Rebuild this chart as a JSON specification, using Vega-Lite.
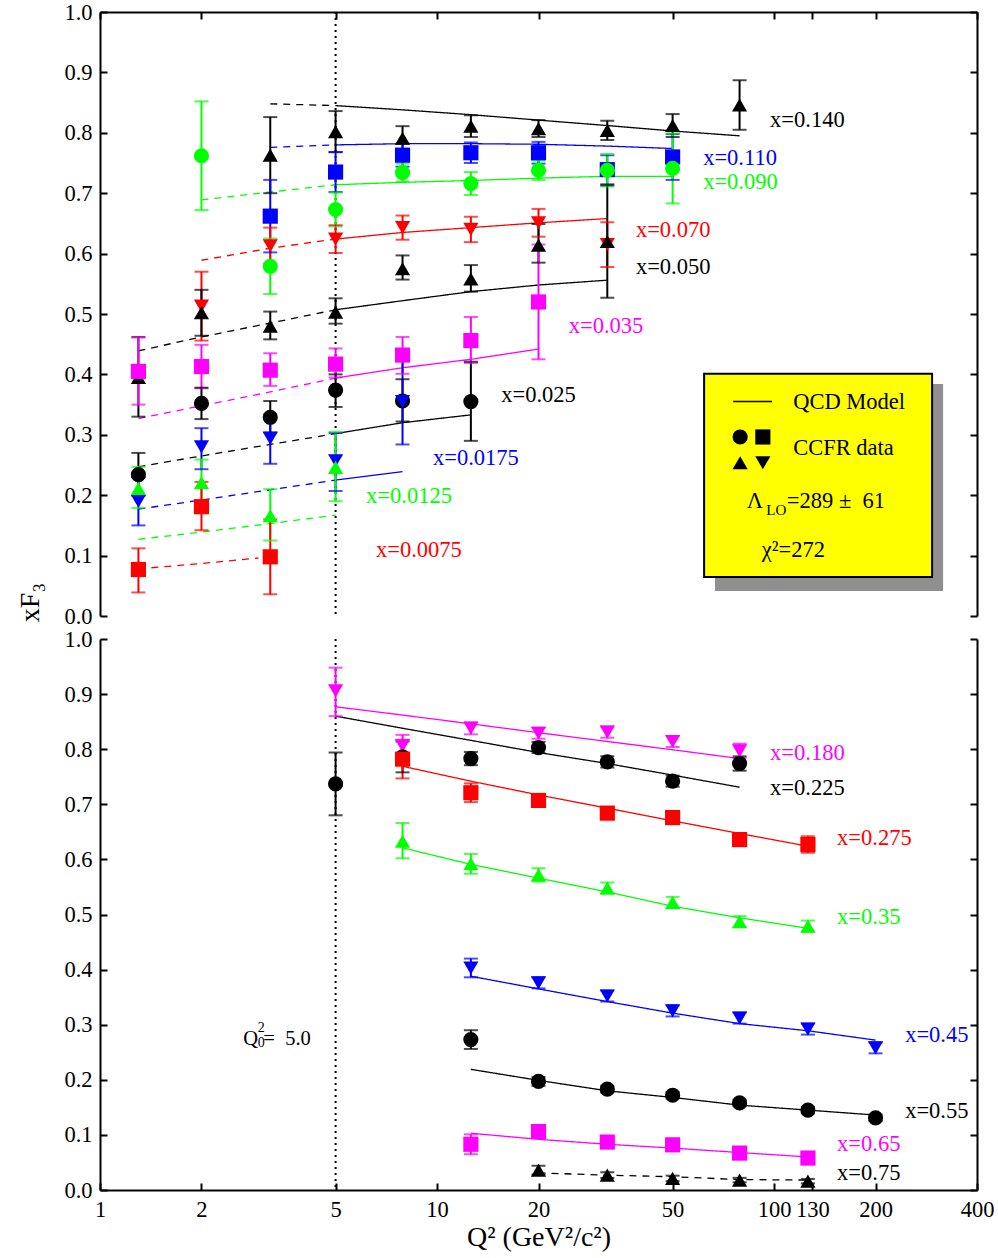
{
  "$schema": "https://vega.github.io/schema/vega-lite/v6.json",
  "background": "white",
  "padding": {"left": 16, "top": 1, "right": 6, "bottom": 6},
  "bounds": "flush",
  "spacing": 23,
  "config": {
    "view": {"stroke": null},
    "font": "Liberation Serif",
    "legend": {"disable": true},
    "axis": {"grid": false, "domainColor": "#000", "domainWidth": 2, "tickColor": "#000", "tickWidth": 2, "tickSize": -7,
      "labelFont": "Liberation Serif", "labelFontSize": 22.5, "labelColor": "#000", "labelPadding": 15, "labelFlush": false, "labelOverlap": false,
      "titleFont": "Liberation Serif", "titleFontWeight": "normal", "titleColor": "#000", "titleFontSize": 28}
  },
  "resolve": {"scale": {"shape": "independent"}},
  "datasets": {
    "tp": [
      {"s":"0.140","q":3.2,"y":0.763,"lo":0.700,"hi":0.826},{"s":"0.140","q":5,"y":0.802,"lo":0.768,"hi":0.836},{"s":"0.140","q":7.9,"y":0.791,"lo":0.771,"hi":0.811},{"s":"0.140","q":12.6,"y":0.811,"lo":0.793,"hi":0.829},{"s":"0.140","q":20,"y":0.807,"lo":0.793,"hi":0.821},{"s":"0.140","q":32,"y":0.804,"lo":0.788,"hi":0.820},{"s":"0.140","q":50,"y":0.812,"lo":0.793,"hi":0.831},{"s":"0.140","q":79,"y":0.846,"lo":0.805,"hi":0.887},
      {"s":"0.110","q":3.2,"y":0.662,"lo":0.602,"hi":0.722},{"s":"0.110","q":5,"y":0.735,"lo":0.702,"hi":0.768},{"s":"0.110","q":7.9,"y":0.763,"lo":0.744,"hi":0.782},{"s":"0.110","q":12.6,"y":0.767,"lo":0.750,"hi":0.784},{"s":"0.110","q":20,"y":0.767,"lo":0.749,"hi":0.785},{"s":"0.110","q":32,"y":0.739,"lo":0.715,"hi":0.763},{"s":"0.110","q":50,"y":0.760,"lo":0.722,"hi":0.798},
      {"s":"0.090","q":2,"y":0.762,"lo":0.672,"hi":0.852},{"s":"0.090","q":3.2,"y":0.579,"lo":0.533,"hi":0.625},{"s":"0.090","q":5,"y":0.673,"lo":0.645,"hi":0.701},{"s":"0.090","q":7.9,"y":0.734,"lo":0.719,"hi":0.749},{"s":"0.090","q":12.6,"y":0.716,"lo":0.697,"hi":0.735},{"s":"0.090","q":20,"y":0.738,"lo":0.722,"hi":0.754},{"s":"0.090","q":32,"y":0.738,"lo":0.711,"hi":0.765},{"s":"0.090","q":50,"y":0.741,"lo":0.683,"hi":0.799},
      {"s":"0.070","q":2,"y":0.513,"lo":0.456,"hi":0.570},{"s":"0.070","q":3.2,"y":0.613,"lo":0.583,"hi":0.643},{"s":"0.070","q":5,"y":0.624,"lo":0.601,"hi":0.647},{"s":"0.070","q":7.9,"y":0.643,"lo":0.623,"hi":0.663},{"s":"0.070","q":12.6,"y":0.640,"lo":0.619,"hi":0.661},{"s":"0.070","q":20,"y":0.651,"lo":0.628,"hi":0.674},{"s":"0.070","q":32,"y":0.615,"lo":0.578,"hi":0.652},
      {"s":"0.050","q":1.3,"y":0.395,"lo":0.330,"hi":0.462},{"s":"0.050","q":2,"y":0.502,"lo":0.464,"hi":0.540},{"s":"0.050","q":3.2,"y":0.480,"lo":0.458,"hi":0.504},{"s":"0.050","q":5,"y":0.503,"lo":0.484,"hi":0.526},{"s":"0.050","q":7.9,"y":0.575,"lo":0.557,"hi":0.597},{"s":"0.050","q":12.6,"y":0.558,"lo":0.537,"hi":0.581},{"s":"0.050","q":20,"y":0.614,"lo":0.585,"hi":0.649},{"s":"0.050","q":32,"y":0.620,"lo":0.527,"hi":0.713},
      {"s":"0.035","q":1.3,"y":0.405,"lo":0.350,"hi":0.461},{"s":"0.035","q":2,"y":0.413,"lo":0.377,"hi":0.449},{"s":"0.035","q":3.2,"y":0.407,"lo":0.381,"hi":0.435},{"s":"0.035","q":5,"y":0.417,"lo":0.395,"hi":0.443},{"s":"0.035","q":7.9,"y":0.432,"lo":0.401,"hi":0.462},{"s":"0.035","q":12.6,"y":0.456,"lo":0.419,"hi":0.495},{"s":"0.035","q":20,"y":0.520,"lo":0.425,"hi":0.615},
      {"s":"0.025","q":1.3,"y":0.234,"lo":0.199,"hi":0.270},{"s":"0.025","q":2,"y":0.352,"lo":0.326,"hi":0.378},{"s":"0.025","q":3.2,"y":0.329,"lo":0.304,"hi":0.356},{"s":"0.025","q":5,"y":0.374,"lo":0.346,"hi":0.400},{"s":"0.025","q":7.9,"y":0.356,"lo":0.322,"hi":0.392},{"s":"0.025","q":12.6,"y":0.355,"lo":0.290,"hi":0.421},
      {"s":"0.0175","q":1.3,"y":0.190,"lo":0.150,"hi":0.230},{"s":"0.0175","q":2,"y":0.280,"lo":0.243,"hi":0.311},{"s":"0.0175","q":3.2,"y":0.294,"lo":0.252,"hi":0.334},{"s":"0.0175","q":5,"y":0.257,"lo":0.207,"hi":0.303},{"s":"0.0175","q":7.9,"y":0.355,"lo":0.284,"hi":0.425},
      {"s":"0.0125","q":1.3,"y":0.211,"lo":0.179,"hi":0.247},{"s":"0.0125","q":2,"y":0.221,"lo":0.188,"hi":0.259},{"s":"0.0125","q":3.2,"y":0.166,"lo":0.125,"hi":0.210},{"s":"0.0125","q":5,"y":0.246,"lo":0.190,"hi":0.305},
      {"s":"0.0075","q":1.3,"y":0.077,"lo":0.039,"hi":0.112},{"s":"0.0075","q":2,"y":0.181,"lo":0.142,"hi":0.222},{"s":"0.0075","q":3.2,"y":0.098,"lo":0.036,"hi":0.160}
    ],
    "bp": [
      {"s":"0.180","q":5,"y":0.906,"lo":0.860,"hi":0.948},{"s":"0.180","q":7.9,"y":0.806,"lo":0.786,"hi":0.826},{"s":"0.180","q":12.6,"y":0.838,"lo":0.827,"hi":0.849},{"s":"0.180","q":20,"y":0.829,"lo":0.819,"hi":0.839},{"s":"0.180","q":32,"y":0.831,"lo":0.821,"hi":0.841},{"s":"0.180","q":50,"y":0.814,"lo":0.804,"hi":0.824},{"s":"0.180","q":79,"y":0.797,"lo":0.784,"hi":0.810},
      {"s":"0.225","q":5,"y":0.737,"lo":0.680,"hi":0.794},{"s":"0.225","q":7.9,"y":0.786,"lo":0.758,"hi":0.814},{"s":"0.225","q":12.6,"y":0.783,"lo":0.771,"hi":0.795},{"s":"0.225","q":20,"y":0.803,"lo":0.793,"hi":0.813},{"s":"0.225","q":32,"y":0.777,"lo":0.767,"hi":0.787},{"s":"0.225","q":50,"y":0.742,"lo":0.732,"hi":0.752},{"s":"0.225","q":79,"y":0.774,"lo":0.761,"hi":0.787},
      {"s":"0.275","q":7.9,"y":0.782,"lo":0.747,"hi":0.817},{"s":"0.275","q":12.6,"y":0.721,"lo":0.704,"hi":0.738},{"s":"0.275","q":20,"y":0.707,"lo":0.697,"hi":0.717},{"s":"0.275","q":32,"y":0.684,"lo":0.674,"hi":0.694},{"s":"0.275","q":50,"y":0.676,"lo":0.666,"hi":0.686},{"s":"0.275","q":79,"y":0.636,"lo":0.626,"hi":0.646},{"s":"0.275","q":126,"y":0.627,"lo":0.612,"hi":0.642},
      {"s":"0.35","q":7.9,"y":0.633,"lo":0.602,"hi":0.666},{"s":"0.35","q":12.6,"y":0.592,"lo":0.574,"hi":0.610},{"s":"0.35","q":20,"y":0.572,"lo":0.560,"hi":0.584},{"s":"0.35","q":32,"y":0.548,"lo":0.538,"hi":0.558},{"s":"0.35","q":50,"y":0.522,"lo":0.512,"hi":0.532},{"s":"0.35","q":79,"y":0.487,"lo":0.477,"hi":0.497},{"s":"0.35","q":126,"y":0.479,"lo":0.469,"hi":0.489},
      {"s":"0.45","q":12.6,"y":0.403,"lo":0.386,"hi":0.420},{"s":"0.45","q":20,"y":0.376,"lo":0.366,"hi":0.386},{"s":"0.45","q":32,"y":0.352,"lo":0.342,"hi":0.362},{"s":"0.45","q":50,"y":0.325,"lo":0.315,"hi":0.335},{"s":"0.45","q":79,"y":0.312,"lo":0.302,"hi":0.322},{"s":"0.45","q":126,"y":0.292,"lo":0.282,"hi":0.302},{"s":"0.45","q":200,"y":0.258,"lo":0.248,"hi":0.268},
      {"s":"0.55","q":12.6,"y":0.273,"lo":0.256,"hi":0.290},{"s":"0.55","q":20,"y":0.197,"lo":0.189,"hi":0.205},{"s":"0.55","q":32,"y":0.183,"lo":0.177,"hi":0.189},{"s":"0.55","q":50,"y":0.172,"lo":0.166,"hi":0.178},{"s":"0.55","q":79,"y":0.158,"lo":0.152,"hi":0.164},{"s":"0.55","q":126,"y":0.145,"lo":0.139,"hi":0.151},{"s":"0.55","q":200,"y":0.131,"lo":0.125,"hi":0.137},
      {"s":"0.65","q":12.6,"y":0.083,"lo":0.065,"hi":0.101},{"s":"0.65","q":20,"y":0.106,"lo":0.098,"hi":0.114},{"s":"0.65","q":32,"y":0.087,"lo":0.081,"hi":0.093},{"s":"0.65","q":50,"y":0.082,"lo":0.076,"hi":0.088},{"s":"0.65","q":79,"y":0.067,"lo":0.061,"hi":0.073},{"s":"0.65","q":126,"y":0.058,"lo":0.052,"hi":0.064},
      {"s":"0.75","q":20,"y":0.036,"lo":0.028,"hi":0.044},{"s":"0.75","q":32,"y":0.027,"lo":0.022,"hi":0.032},{"s":"0.75","q":50,"y":0.021,"lo":0.016,"hi":0.026},{"s":"0.75","q":79,"y":0.018,"lo":0.014,"hi":0.022},{"s":"0.75","q":126,"y":0.016,"lo":0.012,"hi":0.020}
    ],
    "tm": [
      {"s":"0.140","seg":"dash","q":3.2,"v":0.848},{"s":"0.140","seg":"dash","q":5,"v":0.845},
      {"s":"0.140","seg":"solid","q":5,"v":0.845},{"s":"0.140","seg":"solid","q":7.9,"v":0.838},{"s":"0.140","seg":"solid","q":12.6,"v":0.830},{"s":"0.140","seg":"solid","q":20,"v":0.821},{"s":"0.140","seg":"solid","q":32,"v":0.812},{"s":"0.140","seg":"solid","q":50,"v":0.803},{"s":"0.140","seg":"solid","q":79,"v":0.795},
      {"s":"0.110","seg":"dash","q":3.2,"v":0.776},{"s":"0.110","seg":"dash","q":5,"v":0.780},
      {"s":"0.110","seg":"solid","q":5,"v":0.780},{"s":"0.110","seg":"solid","q":7.9,"v":0.782},{"s":"0.110","seg":"solid","q":12.6,"v":0.782},{"s":"0.110","seg":"solid","q":20,"v":0.781},{"s":"0.110","seg":"solid","q":32,"v":0.778},{"s":"0.110","seg":"solid","q":50,"v":0.774},
      {"s":"0.090","seg":"dash","q":2,"v":0.689},{"s":"0.090","seg":"dash","q":3.2,"v":0.702},{"s":"0.090","seg":"dash","q":5,"v":0.714},
      {"s":"0.090","seg":"solid","q":5,"v":0.714},{"s":"0.090","seg":"solid","q":7.9,"v":0.718},{"s":"0.090","seg":"solid","q":12.6,"v":0.721},{"s":"0.090","seg":"solid","q":20,"v":0.725},{"s":"0.090","seg":"solid","q":32,"v":0.728},{"s":"0.090","seg":"solid","q":50,"v":0.728},
      {"s":"0.070","seg":"dash","q":2,"v":0.589},{"s":"0.070","seg":"dash","q":3.2,"v":0.609},{"s":"0.070","seg":"dash","q":5,"v":0.624},
      {"s":"0.070","seg":"solid","q":5,"v":0.624},{"s":"0.070","seg":"solid","q":7.9,"v":0.635},{"s":"0.070","seg":"solid","q":12.6,"v":0.643},{"s":"0.070","seg":"solid","q":20,"v":0.651},{"s":"0.070","seg":"solid","q":32,"v":0.658},
      {"s":"0.050","seg":"dash","q":1.3,"v":0.439},{"s":"0.050","seg":"dash","q":2,"v":0.462},{"s":"0.050","seg":"dash","q":3.2,"v":0.485},{"s":"0.050","seg":"dash","q":5,"v":0.507},
      {"s":"0.050","seg":"solid","q":5,"v":0.507},{"s":"0.050","seg":"solid","q":7.9,"v":0.522},{"s":"0.050","seg":"solid","q":12.6,"v":0.537},{"s":"0.050","seg":"solid","q":20,"v":0.548},{"s":"0.050","seg":"solid","q":32,"v":0.556},
      {"s":"0.035","seg":"dash","q":1.3,"v":0.327},{"s":"0.035","seg":"dash","q":2,"v":0.348},{"s":"0.035","seg":"dash","q":3.2,"v":0.371},{"s":"0.035","seg":"dash","q":5,"v":0.394},
      {"s":"0.035","seg":"solid","q":5,"v":0.394},{"s":"0.035","seg":"solid","q":7.9,"v":0.411},{"s":"0.035","seg":"solid","q":12.6,"v":0.425},{"s":"0.035","seg":"solid","q":20,"v":0.442},
      {"s":"0.025","seg":"dash","q":1.3,"v":0.247},{"s":"0.025","seg":"dash","q":2,"v":0.265},{"s":"0.025","seg":"dash","q":3.2,"v":0.284},{"s":"0.025","seg":"dash","q":5,"v":0.302},
      {"s":"0.025","seg":"solid","q":5,"v":0.302},{"s":"0.025","seg":"solid","q":7.9,"v":0.320},{"s":"0.025","seg":"solid","q":12.6,"v":0.333},
      {"s":"0.0175","seg":"dash","q":1.3,"v":0.177},{"s":"0.0175","seg":"dash","q":2,"v":0.192},{"s":"0.0175","seg":"dash","q":3.2,"v":0.209},{"s":"0.0175","seg":"dash","q":5,"v":0.225},
      {"s":"0.0175","seg":"solid","q":5,"v":0.225},{"s":"0.0175","seg":"solid","q":7.9,"v":0.239},
      {"s":"0.0125","seg":"dash","q":1.3,"v":0.127},{"s":"0.0125","seg":"dash","q":2,"v":0.139},{"s":"0.0125","seg":"dash","q":3.2,"v":0.153},{"s":"0.0125","seg":"dash","q":5,"v":0.167},
      {"s":"0.0075","seg":"dash","q":1.3,"v":0.078},{"s":"0.0075","seg":"dash","q":2,"v":0.087},{"s":"0.0075","seg":"dash","q":2.95,"v":0.096}
    ],
    "bm": [
      {"s":"0.180","seg":"solid","q":5,"v":0.877},{"s":"0.180","seg":"solid","q":7.9,"v":0.862},{"s":"0.180","seg":"solid","q":12.6,"v":0.846},{"s":"0.180","seg":"solid","q":20,"v":0.830},{"s":"0.180","seg":"solid","q":32,"v":0.814},{"s":"0.180","seg":"solid","q":50,"v":0.799},{"s":"0.180","seg":"solid","q":79,"v":0.783},
      {"s":"0.225","seg":"solid","q":5,"v":0.860},{"s":"0.225","seg":"solid","q":7.9,"v":0.838},{"s":"0.225","seg":"solid","q":12.6,"v":0.816},{"s":"0.225","seg":"solid","q":20,"v":0.794},{"s":"0.225","seg":"solid","q":32,"v":0.774},{"s":"0.225","seg":"solid","q":50,"v":0.753},{"s":"0.225","seg":"solid","q":79,"v":0.731},
      {"s":"0.275","seg":"solid","q":7.9,"v":0.769},{"s":"0.275","seg":"solid","q":12.6,"v":0.742},{"s":"0.275","seg":"solid","q":20,"v":0.717},{"s":"0.275","seg":"solid","q":32,"v":0.693},{"s":"0.275","seg":"solid","q":50,"v":0.670},{"s":"0.275","seg":"solid","q":79,"v":0.647},{"s":"0.275","seg":"solid","q":126,"v":0.624},
      {"s":"0.35","seg":"solid","q":7.9,"v":0.621},{"s":"0.35","seg":"solid","q":12.6,"v":0.591},{"s":"0.35","seg":"solid","q":20,"v":0.566},{"s":"0.35","seg":"solid","q":32,"v":0.541},{"s":"0.35","seg":"solid","q":50,"v":0.515},{"s":"0.35","seg":"solid","q":79,"v":0.494},{"s":"0.35","seg":"solid","q":126,"v":0.475},
      {"s":"0.45","seg":"solid","q":12.6,"v":0.388},{"s":"0.45","seg":"solid","q":20,"v":0.365},{"s":"0.45","seg":"solid","q":32,"v":0.342},{"s":"0.45","seg":"solid","q":50,"v":0.321},{"s":"0.45","seg":"solid","q":79,"v":0.302},{"s":"0.45","seg":"solid","q":126,"v":0.289},{"s":"0.45","seg":"solid","q":200,"v":0.272},
      {"s":"0.55","seg":"solid","q":12.6,"v":0.219},{"s":"0.55","seg":"solid","q":20,"v":0.199},{"s":"0.55","seg":"solid","q":32,"v":0.180},{"s":"0.55","seg":"solid","q":50,"v":0.168},{"s":"0.55","seg":"solid","q":79,"v":0.154},{"s":"0.55","seg":"solid","q":126,"v":0.145},{"s":"0.55","seg":"solid","q":200,"v":0.136},
      {"s":"0.65","seg":"solid","q":12.6,"v":0.103},{"s":"0.65","seg":"solid","q":20,"v":0.092},{"s":"0.65","seg":"solid","q":32,"v":0.083},{"s":"0.65","seg":"solid","q":50,"v":0.076},{"s":"0.65","seg":"solid","q":79,"v":0.068},{"s":"0.65","seg":"solid","q":126,"v":0.060},
      {"s":"0.75","seg":"dash","q":20,"v":0.031},{"s":"0.75","seg":"dash","q":32,"v":0.027},{"s":"0.75","seg":"dash","q":50,"v":0.024},{"s":"0.75","seg":"dash","q":79,"v":0.019},{"s":"0.75","seg":"dash","q":126,"v":0.018}
    ],
    "tl": [
      {"s":"0.140","t":"x=0.140","q":97.3,"v":0.821},{"s":"0.110","t":"x=0.110","q":61.6,"v":0.758},{"s":"0.090","t":"x=0.090","q":61.6,"v":0.719},
      {"s":"0.070","t":"x=0.070","q":38.9,"v":0.639},{"s":"0.050","t":"x=0.050","q":38.9,"v":0.578},{"s":"0.035","t":"x=0.035","q":24.6,"v":0.480},
      {"s":"0.025","t":"x=0.025","q":15.5,"v":0.366},{"s":"0.0175","t":"x=0.0175","q":9.73,"v":0.262},{"s":"0.0125","t":"x=0.0125","q":6.16,"v":0.199},
      {"s":"0.0075","t":"x=0.0075","q":6.59,"v":0.109}
    ],
    "bl": [
      {"s":"0.180","t":"x=0.180","q":97.3,"v":0.793},{"s":"0.225","t":"x=0.225","q":97.3,"v":0.730},{"s":"0.275","t":"x=0.275","q":153.8,"v":0.639},
      {"s":"0.35","t":"x=0.35","q":153.8,"v":0.495},{"s":"0.45","t":"x=0.45","q":244.8,"v":0.281},{"s":"0.55","t":"x=0.55","q":244.8,"v":0.143},
      {"s":"0.65","t":"x=0.65","q":153.8,"v":0.083},{"s":"0.75","t":"x=0.75","q":153.8,"v":0.031}
    ]
  },
  "vconcat": [
    {
      "width": 877,
      "height": 604,
      "resolve": {"axis": {"x": "independent", "y": "independent"}, "scale": {"shape": "independent"}},
      "layer": [
        {
          "data": {"values": [{"q": 66.8, "q2": 317.3, "v": 0.0414, "v2": 0.384}]},
          "mark": {"type": "rect", "fill": "#8f8f8f"},
          "encoding": {
            "x": {"field": "q", "type": "quantitative", "scale": {"type": "log", "domain": [1, 400], "nice": false}, "axis": null},
            "x2": {"field": "q2"},
            "y": {"field": "v", "type": "quantitative", "scale": {"domain": [0, 1], "nice": false}, "axis": null},
            "y2": {"field": "v2"}
          }
        },
        {
          "data": {"values": [{"q": 62.0, "q2": 294.3, "v": 0.0646, "v2": 0.401}]},
          "mark": {"type": "rect", "fill": "#ffff00", "stroke": "#000", "strokeWidth": 2},
          "encoding": {
            "x": {"field": "q", "type": "quantitative", "scale": {"type": "log", "domain": [1, 400], "nice": false}, "axis": null},
            "x2": {"field": "q2"},
            "y": {"field": "v", "type": "quantitative", "scale": {"domain": [0, 1], "nice": false}, "axis": null},
            "y2": {"field": "v2"}
          }
        },
        {
          "data": {"values": [{"q": 75.6, "q2": 98.6, "v": 0.355}]},
          "mark": {"type": "rule", "color": "#000", "strokeWidth": 1.5},
          "encoding": {
            "x": {"field": "q", "type": "quantitative", "scale": {"type": "log", "domain": [1, 400], "nice": false}, "axis": null},
            "x2": {"field": "q2"},
            "y": {"field": "v", "type": "quantitative", "scale": {"domain": [0, 1], "nice": false}, "axis": null}
          }
        },
        {
          "data": {"values": [{"m": "dot", "q": 79.3, "v": 0.2964}, {"m": "box", "q": 92.6, "v": 0.2964}, {"m": "up", "q": 79.3, "v": 0.2538}, {"m": "down", "q": 92.6, "v": 0.2538}]},
          "mark": {"type": "point", "filled": true, "color": "#000", "opacity": 1, "size": 230, "strokeWidth": 0},
          "encoding": {
            "x": {"field": "q", "type": "quantitative", "scale": {"type": "log", "domain": [1, 400], "nice": false}, "axis": null},
            "y": {"field": "v", "type": "quantitative", "scale": {"domain": [0, 1], "nice": false}, "axis": null},
            "shape": {"field": "m", "type": "nominal", "scale": {"domain": ["dot", "box", "up", "down"], "range": ["circle", "square", "triangle-up", "triangle-down"]}, "legend": null}
          }
        },
        {
          "data": {"values": [
            {"t": "QCD Model", "q": 113.9, "v": 0.355},
            {"t": "CCFR data", "q": 113.9, "v": 0.2777},
            {"t": "Λ", "q": 83.0, "v": 0.190},
            {"t": "=289 ±\u00a0\u00a061", "q": 109.1, "v": 0.190},
            {"t": "χ²=272", "q": 91.9, "v": 0.110}
          ]},
          "mark": {"type": "text", "align": "left", "baseline": "middle", "font": "Liberation Serif", "fontSize": 22.5, "color": "#000"},
          "encoding": {
            "x": {"field": "q", "type": "quantitative", "scale": {"type": "log", "domain": [1, 400], "nice": false}, "axis": null},
            "y": {"field": "v", "type": "quantitative", "scale": {"domain": [0, 1], "nice": false}, "axis": null},
            "text": {"field": "t"}
          }
        },
        {
          "data": {"values": [{"t": "LO", "q": 94.8, "v": 0.176}]},
          "mark": {"type": "text", "align": "left", "baseline": "middle", "font": "Liberation Serif", "fontSize": 15, "color": "#000"},
          "encoding": {
            "x": {"field": "q", "type": "quantitative", "scale": {"type": "log", "domain": [1, 400], "nice": false}, "axis": null},
            "y": {"field": "v", "type": "quantitative", "scale": {"domain": [0, 1], "nice": false}, "axis": null},
            "text": {"field": "t"}
          }
        },
        {
          "data": {"values": [{"q": 5}]},
          "mark": {"type": "rule", "color": "#000", "strokeWidth": 2, "strokeDash": [2, 4]},
          "encoding": {
            "x": {"field": "q", "type": "quantitative", "scale": {"type": "log", "domain": [1, 400], "nice": false}, "axis": null}
          }
        },
        {
          "data": {"name": "tm"},
          "mark": {"type": "line", "strokeWidth": 1.3},
          "encoding": {
            "x": {"field": "q", "type": "quantitative", "scale": {"type": "log", "domain": [1, 400], "nice": false},
              "axis": {"orient": "top", "values": [1, 2, 5, 10, 20, 50, 100, 130, 200, 400], "labels": false, "title": null}},
            "y": {"field": "v", "type": "quantitative", "scale": {"domain": [0, 1], "nice": false},
              "axis": {"orient": "left", "values": [0, 0.1, 0.2, 0.3, 0.4, 0.5, 0.6, 0.7, 0.8, 0.9, 1.0], "format": ".1f", "title": "xF₃", "titleX": -70, "titleY": 590, "titleAngle": -90, "titleAlign": "center", "titleBaseline": "middle"}},
            "color": {"field": "s", "type": "nominal", "legend": null,
              "scale": {"domain": ["0.140","0.110","0.090","0.070","0.050","0.035","0.025","0.0175","0.0125","0.0075","0.180","0.225","0.275","0.35","0.45","0.55","0.65","0.75"],
                "range": ["#000000","#0000ff","#00ff00","#ff0000","#000000","#ff00ff","#000000","#0000ff","#00ff00","#ff0000","#ff00ff","#000000","#ff0000","#00ff00","#0000ff","#000000","#ff00ff","#000000"]}},
            "strokeDash": {"field": "seg", "type": "nominal", "legend": null, "scale": {"domain": ["solid", "dash"], "range": [[1, 0], [7, 6]]}}
          }
        },
        {
          "data": {"name": "tp"},
          "mark": {"type": "rule", "strokeWidth": 2},
          "encoding": {
            "x": {"field": "q", "type": "quantitative", "scale": {"type": "log", "domain": [1, 400], "nice": false}, "axis": null},
            "y": {"field": "lo", "type": "quantitative", "scale": {"domain": [0, 1], "nice": false},
              "axis": {"orient": "right", "values": [0, 0.1, 0.2, 0.3, 0.4, 0.5, 0.6, 0.7, 0.8, 0.9, 1.0], "labels": false, "title": null}},
            "y2": {"field": "hi"},
            "color": {"field": "s", "type": "nominal", "legend": null}
          }
        },
        {
          "data": {"name": "tp"},
          "mark": {"type": "tick", "orient": "horizontal", "size": 14, "thickness": 2},
          "encoding": {
            "x": {"field": "q", "type": "quantitative", "scale": {"type": "log", "domain": [1, 400], "nice": false}, "axis": null},
            "y": {"field": "lo", "type": "quantitative", "scale": {"domain": [0, 1], "nice": false}, "axis": null},
            "color": {"field": "s", "type": "nominal", "legend": null}
          }
        },
        {
          "data": {"name": "tp"},
          "mark": {"type": "tick", "orient": "horizontal", "size": 14, "thickness": 2},
          "encoding": {
            "x": {"field": "q", "type": "quantitative", "scale": {"type": "log", "domain": [1, 400], "nice": false}, "axis": null},
            "y": {"field": "hi", "type": "quantitative", "scale": {"domain": [0, 1], "nice": false}, "axis": null},
            "color": {"field": "s", "type": "nominal", "legend": null}
          }
        },
        {
          "data": {"name": "tp"},
          "mark": {"type": "point", "filled": true, "opacity": 1, "size": 230, "strokeWidth": 0},
          "encoding": {
            "x": {"field": "q", "type": "quantitative", "scale": {"type": "log", "domain": [1, 400], "nice": false}, "axis": null},
            "y": {"field": "y", "type": "quantitative", "scale": {"domain": [0, 1], "nice": false}, "axis": null},
            "color": {"field": "s", "type": "nominal", "legend": null},
            "shape": {"field": "s", "type": "nominal", "legend": null,
              "scale": {"domain": ["0.140","0.110","0.090","0.070","0.050","0.035","0.025","0.0175","0.0125","0.0075","0.180","0.225","0.275","0.35","0.45","0.55","0.65","0.75"],
                "range": ["triangle-up","square","circle","triangle-down","triangle-up","square","circle","triangle-down","triangle-up","square","triangle-down","circle","square","triangle-up","triangle-down","circle","square","triangle-up"]}}
          }
        },
        {
          "data": {"name": "tl"},
          "mark": {"type": "text", "align": "left", "baseline": "middle", "font": "Liberation Serif", "fontSize": 22.5},
          "encoding": {
            "x": {"field": "q", "type": "quantitative", "scale": {"type": "log", "domain": [1, 400], "nice": false}, "axis": null},
            "y": {"field": "v", "type": "quantitative", "scale": {"domain": [0, 1], "nice": false}, "axis": null},
            "text": {"field": "t"},
            "color": {"field": "s", "type": "nominal", "legend": null}
          }
        }
      ]
    },
    {
      "width": 877,
      "height": 551,
      "resolve": {"axis": {"x": "independent", "y": "independent"}},
      "layer": [
        {
          "data": {"values": [{"q": 5}]},
          "mark": {"type": "rule", "color": "#000", "strokeWidth": 2, "strokeDash": [2, 4]},
          "encoding": {
            "x": {"field": "q", "type": "quantitative", "scale": {"type": "log", "domain": [1, 400], "nice": false}, "axis": null}
          }
        },
        {
          "data": {"values": [{"t": "Q", "q": 2.662, "v": 0.274}, {"t": "=\u00a0\u00a05.0", "q": 3.053, "v": 0.274}]},
          "mark": {"type": "text", "align": "left", "baseline": "middle", "font": "Liberation Serif", "fontSize": 20.5, "color": "#000"},
          "encoding": {
            "x": {"field": "q", "type": "quantitative", "scale": {"type": "log", "domain": [1, 400], "nice": false}, "axis": null},
            "y": {"field": "v", "type": "quantitative", "scale": {"domain": [0, 1], "nice": false}, "axis": null},
            "text": {"field": "t"}
          }
        },
        {
          "data": {"values": [{"t": "2", "q": 2.938, "v": 0.2946}, {"t": "0", "q": 2.938, "v": 0.2673}]},
          "mark": {"type": "text", "align": "left", "baseline": "middle", "font": "Liberation Serif", "fontSize": 14, "color": "#000"},
          "encoding": {
            "x": {"field": "q", "type": "quantitative", "scale": {"type": "log", "domain": [1, 400], "nice": false}, "axis": null},
            "y": {"field": "v", "type": "quantitative", "scale": {"domain": [0, 1], "nice": false}, "axis": null},
            "text": {"field": "t"}
          }
        },
        {
          "data": {"name": "bm"},
          "mark": {"type": "line", "strokeWidth": 1.3},
          "encoding": {
            "x": {"field": "q", "type": "quantitative", "scale": {"type": "log", "domain": [1, 400], "nice": false},
              "axis": {"orient": "bottom", "values": [1, 2, 5, 10, 20, 50, 100, 130, 200, 400], "format": "d", "labelDx": 4, "title": "Q² (GeV²/c²)", "titlePadding": 3}},
            "y": {"field": "v", "type": "quantitative", "scale": {"domain": [0, 1], "nice": false},
              "axis": {"orient": "left", "values": [0, 0.1, 0.2, 0.3, 0.4, 0.5, 0.6, 0.7, 0.8, 0.9, 1.0], "format": ".1f", "title": null}},
            "color": {"field": "s", "type": "nominal", "legend": null,
              "scale": {"domain": ["0.140","0.110","0.090","0.070","0.050","0.035","0.025","0.0175","0.0125","0.0075","0.180","0.225","0.275","0.35","0.45","0.55","0.65","0.75"],
                "range": ["#000000","#0000ff","#00ff00","#ff0000","#000000","#ff00ff","#000000","#0000ff","#00ff00","#ff0000","#ff00ff","#000000","#ff0000","#00ff00","#0000ff","#000000","#ff00ff","#000000"]}},
            "strokeDash": {"field": "seg", "type": "nominal", "legend": null, "scale": {"domain": ["solid", "dash"], "range": [[1, 0], [7, 6]]}}
          }
        },
        {
          "data": {"name": "bp"},
          "mark": {"type": "rule", "strokeWidth": 2},
          "encoding": {
            "x": {"field": "q", "type": "quantitative", "scale": {"type": "log", "domain": [1, 400], "nice": false}, "axis": null},
            "y": {"field": "lo", "type": "quantitative", "scale": {"domain": [0, 1], "nice": false},
              "axis": {"orient": "right", "values": [0, 0.1, 0.2, 0.3, 0.4, 0.5, 0.6, 0.7, 0.8, 0.9, 1.0], "labels": false, "title": null}},
            "y2": {"field": "hi"},
            "color": {"field": "s", "type": "nominal", "legend": null}
          }
        },
        {
          "data": {"name": "bp"},
          "mark": {"type": "tick", "orient": "horizontal", "size": 14, "thickness": 2},
          "encoding": {
            "x": {"field": "q", "type": "quantitative", "scale": {"type": "log", "domain": [1, 400], "nice": false}, "axis": null},
            "y": {"field": "lo", "type": "quantitative", "scale": {"domain": [0, 1], "nice": false}, "axis": null},
            "color": {"field": "s", "type": "nominal", "legend": null}
          }
        },
        {
          "data": {"name": "bp"},
          "mark": {"type": "tick", "orient": "horizontal", "size": 14, "thickness": 2},
          "encoding": {
            "x": {"field": "q", "type": "quantitative", "scale": {"type": "log", "domain": [1, 400], "nice": false}, "axis": null},
            "y": {"field": "hi", "type": "quantitative", "scale": {"domain": [0, 1], "nice": false}, "axis": null},
            "color": {"field": "s", "type": "nominal", "legend": null}
          }
        },
        {
          "data": {"name": "bp"},
          "mark": {"type": "point", "filled": true, "opacity": 1, "size": 230, "strokeWidth": 0},
          "encoding": {
            "x": {"field": "q", "type": "quantitative", "scale": {"type": "log", "domain": [1, 400], "nice": false}, "axis": null},
            "y": {"field": "y", "type": "quantitative", "scale": {"domain": [0, 1], "nice": false}, "axis": null},
            "color": {"field": "s", "type": "nominal", "legend": null},
            "shape": {"field": "s", "type": "nominal", "legend": null,
              "scale": {"domain": ["0.140","0.110","0.090","0.070","0.050","0.035","0.025","0.0175","0.0125","0.0075","0.180","0.225","0.275","0.35","0.45","0.55","0.65","0.75"],
                "range": ["triangle-up","square","circle","triangle-down","triangle-up","square","circle","triangle-down","triangle-up","square","triangle-down","circle","square","triangle-up","triangle-down","circle","square","triangle-up"]}}
          }
        },
        {
          "data": {"name": "bl"},
          "mark": {"type": "text", "align": "left", "baseline": "middle", "font": "Liberation Serif", "fontSize": 22.5},
          "encoding": {
            "x": {"field": "q", "type": "quantitative", "scale": {"type": "log", "domain": [1, 400], "nice": false}, "axis": null},
            "y": {"field": "v", "type": "quantitative", "scale": {"domain": [0, 1], "nice": false}, "axis": null},
            "text": {"field": "t"},
            "color": {"field": "s", "type": "nominal", "legend": null}
          }
        }
      ]
    }
  ]
}
